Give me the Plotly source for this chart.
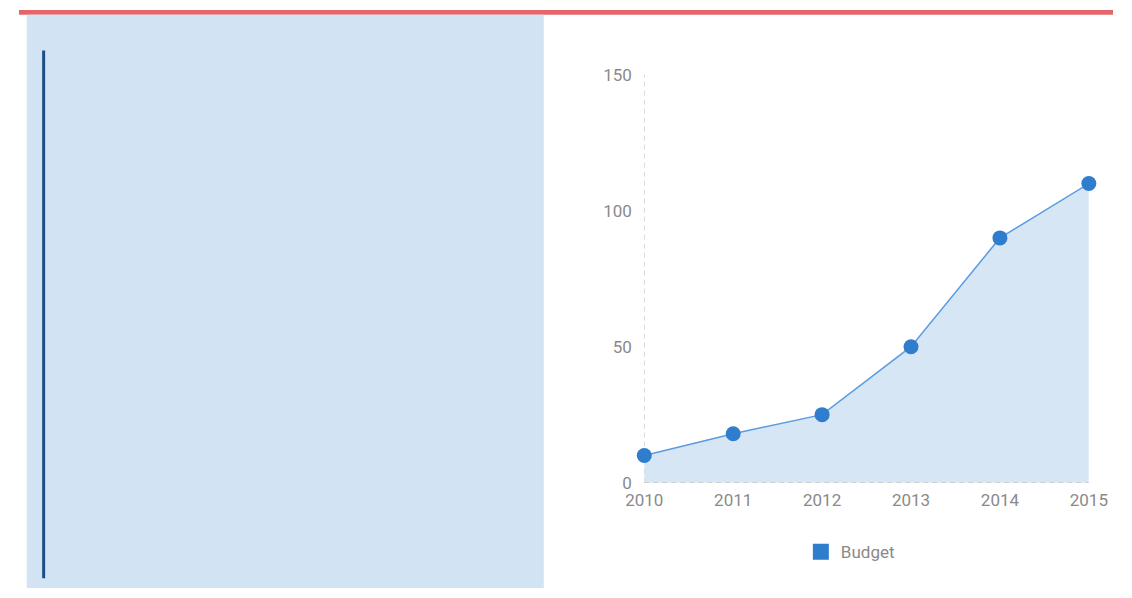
import plotly.graph_objects as go

years = [2010, 2011, 2012, 2013, 2014, 2015]
budget = [10, 18, 25, 50, 90, 110]
y_ticks = [0, 50, 100, 150]
series_name = "Budget"

W, H = 1132, 598
def px(x): return x / W
def py(y): return 1 - y / H

fig = go.Figure()
fig.add_trace(go.Scatter(
    x=years, y=budget, mode="lines+markers",
    line=dict(color="#5b9be0", width=1.5),
    marker=dict(color="#2f7dcd", size=15),
    fill="tozeroy", fillcolor="rgba(210,227,243,0.9)",
    cliponaxis=False, showlegend=False, name=series_name,
))
fig.add_trace(go.Scatter(
    x=[None], y=[None], mode="markers", name=series_name,
    marker=dict(color="#2f7dcd", size=16, symbol="square"),
))

shapes = [
    dict(type="rect", xref="paper", yref="paper", x0=0, x1=1, y0=py(5), y1=1,
         fillcolor="#e3676a", line=dict(width=0), layer="below"),
    dict(type="rect", xref="paper", yref="paper", x0=px(8), x1=px(543), y0=0, y1=py(5),
         fillcolor="#d2e3f3", line=dict(width=0), layer="below"),
    dict(type="line", xref="paper", yref="paper", x0=px(25.5), x1=px(25.5), y0=py(42), y1=py(588),
         line=dict(color="#1f4e85", width=3)),
    dict(type="line", xref="x", yref="y", x0=2010, x1=2010, y0=0, y1=150,
         line=dict(color="#bdbdbd", width=1, dash="5px,4px"), layer="below"),
    dict(type="line", xref="x", yref="y", x0=2010, x1=2015, y0=0, y1=0,
         line=dict(color="#bdbdbd", width=1, dash="5px,4px"), layer="above"),
]

fig.update_layout(
    width=W, height=H, margin=dict(l=0, r=0, t=0, b=0),
    paper_bgcolor="white", plot_bgcolor="rgba(0,0,0,0)",
    font=dict(family="Roboto, Arial, sans-serif", color="#8a8a8a", size=17),
    shapes=shapes,
    xaxis=dict(domain=[px(647), px(1107)], range=[2010, 2015], tickvals=years,
               showgrid=False, zeroline=False, showline=False,
               ticks="outside", ticklen=2, tickcolor="rgba(0,0,0,0)",
               tickfont=dict(size=17, color="#8a8a8a")),
    yaxis=dict(domain=[py(489), py(67)], range=[0, 150], tickvals=y_ticks,
               showgrid=False, zeroline=False, showline=False,
               ticks="outside", ticklen=8, tickcolor="rgba(0,0,0,0)",
               tickfont=dict(size=17, color="#8a8a8a")),
    legend=dict(x=px(809), y=py(561), xanchor="left", yanchor="middle",
                orientation="h", font=dict(size=17, color="#8a8a8a"),
                bgcolor="rgba(0,0,0,0)"),
)

fig.write_html(
    "out.html",
    post_script="document.documentElement.style.margin='0';"
                "document.body.style.margin='0';"
                "document.body.style.overflow='hidden';",
)
